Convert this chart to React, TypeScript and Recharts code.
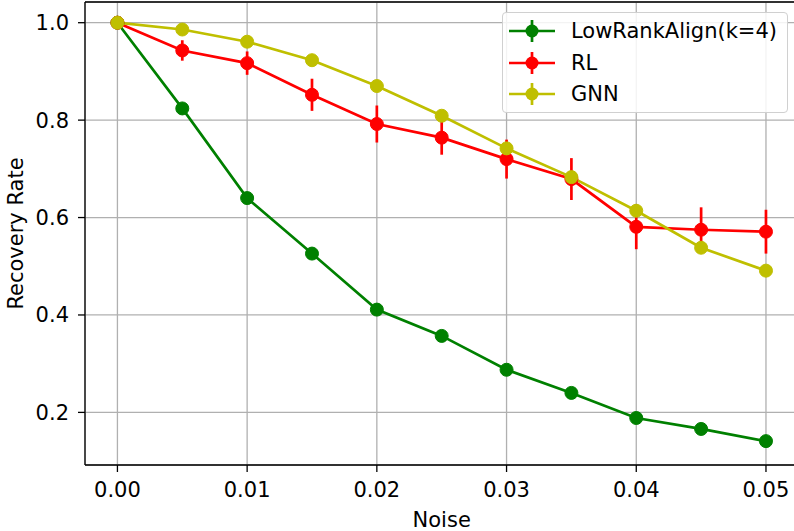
import React from "react";
import {
  LineChart,
  Line,
  XAxis,
  YAxis,
  CartesianGrid,
  ErrorBar,
  Legend,
  ReferenceLine,
} from "recharts";

const noise = [0, 0.005, 0.01, 0.015, 0.02, 0.025, 0.03, 0.035, 0.04, 0.045, 0.05];
const lowRank = [1.0, 0.824, 0.64, 0.526, 0.411, 0.357, 0.2875, 0.24, 0.1885, 0.166, 0.141];
const rl = [1.0, 0.943, 0.917, 0.852, 0.792, 0.764, 0.72, 0.679, 0.581, 0.575, 0.571];
const rlErr = [0, 0.021, 0.024, 0.033, 0.038, 0.035, 0.04, 0.043, 0.046, 0.046, 0.045];
const gnn = [1.0, 0.986, 0.961, 0.923, 0.87, 0.809, 0.742, 0.683, 0.614, 0.538, 0.491];
const gnnErr = [0, 0.005, 0.005, 0.005, 0.005, 0.005, 0.005, 0.005, 0.006, 0.008, 0.006];

const seriesNames = ["LowRankAlign(k=4)", "RL", "GNN"];
const xTicks = [0, 0.01, 0.02, 0.03, 0.04, 0.05];
const yTicks = [0.2, 0.4, 0.6, 0.8, 1.0];

const X_MIN = -0.0025;
const X_MAX = 0.0525;
const Y_MIN = 0.092;
const Y_MAX = 1.0425;

const GREEN = "#008000";
const RED = "#ff0000";
const OLIVE = "#bfbf00";
const FONT = "DejaVu Sans";
const FS = 21;

const data = noise.map((n, i) => ({
  noise: n,
  lowRank: lowRank[i],
  rl: rl[i],
  rlErr: rlErr[i],
  gnn: gnn[i],
  gnnErr: gnnErr[i],
}));

const LegendBox = (props: any) => {
  const items = [...(props.payload || [])].sort(
    (a: any, b: any) => seriesNames.indexOf(a.value) - seriesNames.indexOf(b.value)
  );
  return (
    <div
      style={{
        position: "absolute",
        left: 0,
        top: 0,
        width: 286,
        height: 101,
        border: "1.3px solid #d0d0d0",
        borderRadius: 4,
        background: "rgba(255,255,255,0.85)",
        fontFamily: FONT,
        fontSize: FS,
        color: "#000",
        boxSizing: "border-box",
      }}
    >
      {items.map((it: any, i: number) => (
        <div
          key={it.value}
          style={{
            position: "absolute",
            left: 0,
            top: 3 + i * 31.5,
            height: 30,
            display: "flex",
            alignItems: "center",
            whiteSpace: "nowrap",
          }}
        >
          <svg width={64} height={30} style={{ marginLeft: 4, display: "block" }}>
            <line x1={2} y1={15} x2={48} y2={15} stroke={it.color} strokeWidth={2.7} />
            <line x1={25} y1={4} x2={25} y2={26} stroke={it.color} strokeWidth={2.7} />
            <circle cx={25} cy={15} r={6.5} fill={it.color} />
          </svg>
          <span>{it.value}</span>
        </div>
      ))}
    </div>
  );
};

export default function App() {
  return (
    <div
      style={{
        position: "absolute",
        left: 0,
        top: 0,
        width: 794,
        height: 531,
        overflow: "hidden",
        background: "#fff",
      }}
    >
      <LineChart
        width={800}
        height={531}
        data={data}
        margin={{ top: 2, right: 1.6, bottom: 0, left: 0 }}
        style={{ fontFamily: FONT }}
      >
        <CartesianGrid stroke="#b0b0b0" strokeWidth={1.3} />
        <XAxis
          dataKey="noise"
          type="number"
          domain={[X_MIN, X_MAX]}
          ticks={xTicks}
          allowDataOverflow
          tickFormatter={(v: number) => v.toFixed(2)}
          height={66}
          tickSize={7}
          tickMargin={10}
          axisLine={{ stroke: "#000", strokeWidth: 1.3 }}
          tickLine={{ stroke: "#000", strokeWidth: 1.3 }}
          tick={{ fill: "#000", fontSize: FS, fontFamily: FONT }}
          label={{
            value: "Noise",
            position: "insideBottom",
            offset: 4,
            style: { fill: "#000", fontSize: FS, fontFamily: FONT },
          }}
        />
        <YAxis
          type="number"
          domain={[Y_MIN, Y_MAX]}
          ticks={yTicks}
          allowDataOverflow
          tickFormatter={(v: number) => v.toFixed(1)}
          width={85}
          tickSize={7}
          tickMargin={9}
          axisLine={{ stroke: "#000", strokeWidth: 1.3 }}
          tickLine={{ stroke: "#000", strokeWidth: 1.3 }}
          tick={{ fill: "#000", fontSize: FS, fontFamily: FONT }}
          label={{
            value: "Recovery Rate",
            angle: -90,
            position: "insideLeft",
            offset: 16,
            style: { fill: "#000", fontSize: FS, fontFamily: FONT, textAnchor: "middle" },
          }}
        />
        <ReferenceLine y={Y_MAX} stroke="#000" strokeWidth={1.3} ifOverflow="extendDomain" />
        <Legend
          layout="horizontal"
          verticalAlign="middle"
          align="center"
          wrapperStyle={{ top: 12, left: 502, width: 286, height: 101 }}
          content={<LegendBox />}
        />
        <Line
          name="LowRankAlign(k=4)"
          dataKey="lowRank"
          stroke={GREEN}
          strokeWidth={2.7}
          dot={{ r: 6.5, fill: GREEN, stroke: GREEN, strokeWidth: 1 }}
          activeDot={false}
          isAnimationActive={false}
        />
        <Line
          name="RL"
          dataKey="rl"
          stroke={RED}
          strokeWidth={2.7}
          dot={{ r: 6.5, fill: RED, stroke: RED, strokeWidth: 1 }}
          activeDot={false}
          isAnimationActive={false}
        >
          <ErrorBar
            dataKey="rlErr"
            direction="y"
            width={0}
            stroke={RED}
            strokeWidth={2.7}
            isAnimationActive={false}
          />
        </Line>
        <Line
          name="GNN"
          dataKey="gnn"
          stroke={OLIVE}
          strokeWidth={2.7}
          dot={{ r: 6.5, fill: OLIVE, stroke: OLIVE, strokeWidth: 1 }}
          activeDot={false}
          isAnimationActive={false}
        >
          <ErrorBar
            dataKey="gnnErr"
            direction="y"
            width={0}
            stroke={OLIVE}
            strokeWidth={2.7}
            isAnimationActive={false}
          />
        </Line>
      </LineChart>
    </div>
  );
}
